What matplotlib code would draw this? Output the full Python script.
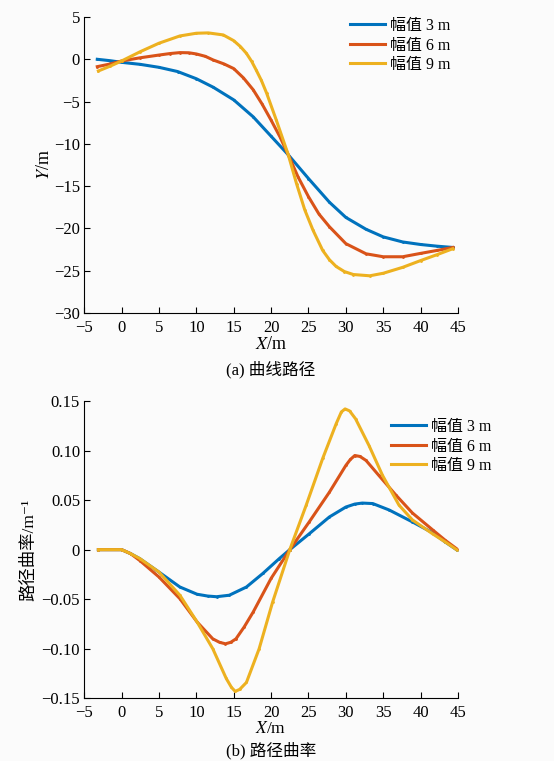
import matplotlib
matplotlib.use("Agg")
import matplotlib.pyplot as plt

serif_cjk = ["Liberation Serif", "Noto Sans CJK SC", "DejaVu Sans"]
plt.rcParams['font.family'] = serif_cjk
plt.rcParams['mathtext.fontset'] = 'stix'
plt.rcParams['axes.unicode_minus'] = True

bg = "#fbfbfb"
c3 = "#0072BD"  # matlab default colors
c6 = "#D95319"
c9 = "#EDB120"
labels = ["幅值 3 m", "幅值 6 m", "幅值 9 m"]

# ---- (a) path: X, Y in m
path_x3 = [-3.25, -1.5, 0, 2.5, 5, 7.5, 10, 12.25, 15, 17.6, 20, 22.3, 25, 27.8, 30, 32.7, 35, 37.6, 40, 42.2, 44.3]
path_y3 = [0.0, -0.17, -0.36, -0.6, -0.95, -1.45, -2.3, -3.3, -4.8, -6.8, -9.1, -11.3, -14.1, -16.9, -18.7, -20.1, -21.0, -21.6, -21.9, -22.1, -22.25]
path_x6 = [-3.25, -1.5, 0, 2.5, 5, 6.5, 7.8, 9, 10, 11.2, 12.25, 13.7, 15, 16.3, 17.6, 18.8, 20, 21.2, 22.3, 23.6, 25, 26.4, 27.8, 30, 32.7, 35, 37.6, 40, 42.2, 44.3]
path_y6 = [-0.87, -0.55, -0.2, 0.18, 0.5, 0.68, 0.79, 0.77, 0.63, 0.35, -0.08, -0.55, -1.1, -2.2, -3.6, -5.3, -7.2, -9.2, -11.3, -13.9, -16.25, -18.3, -19.8, -21.8, -23.0, -23.35, -23.35, -22.95, -22.6, -22.25]
path_x9 = [-3.1, -1.5, 0, 2.5, 5, 7.8, 10, 11.6, 13.6, 15, 15.9, 16.7, 17.4, 18, 18.7, 19.4, 20.7, 22.3, 23.4, 24.5, 25.6, 26.9, 27.8, 28.7, 29.8, 31, 33.2, 35, 37.6, 40, 42.2, 44.3]
path_y9 = [-1.38, -0.8, -0.2, 0.9, 1.9, 2.76, 3.08, 3.12, 2.88, 2.2, 1.5, 0.7, -0.25, -1.26, -2.5, -4.0, -7.2, -11.3, -14.7, -17.8, -20.2, -22.6, -23.7, -24.5, -25.1, -25.45, -25.6, -25.3, -24.6, -23.8, -23.1, -22.4]

# ---- (b) curvature, 1/m
curv_x3 = [-3.1, 0, 1.2, 2.44, 5, 7.8, 10.1, 11.5, 12.7, 14.4, 16.7, 18.9, 21.1, 22.5, 25.1, 27.8, 30, 31.2, 32.2, 33.6, 35.8, 38.9, 41.6, 43.3, 44.8]
curv_k3 = [0, 0, -0.004, -0.0091, -0.0226, -0.0377, -0.045, -0.0468, -0.0475, -0.046, -0.0377, -0.024, -0.009, 0.0, 0.016, 0.033, 0.043, 0.046, 0.047, 0.0465, 0.040, 0.028, 0.017, 0.0077, 0.0]
curv_x6 = [-3.1, 0, 1.2, 2.44, 5, 7.8, 10.1, 12.2, 13.1, 13.9, 14.6, 15.3, 16.4, 17.6, 20, 22.5, 25.1, 27.8, 30, 30.6, 31.2, 31.9, 32.7, 34.4, 36.7, 38.9, 41.6, 43.3, 44.8]
curv_k6 = [0, 0, -0.004, -0.011, -0.0276, -0.0495, -0.073, -0.09, -0.0935, -0.095, -0.0935, -0.09, -0.078, -0.063, -0.029, 0.0, 0.028, 0.058, 0.085, 0.091, 0.095, 0.094, 0.090, 0.075, 0.055, 0.037, 0.020, 0.0094, 0.001]
curv_x9 = [-3.1, 0, 1.2, 2.44, 5, 7.8, 10.1, 12.2, 14, 14.7, 15.2, 15.8, 16.7, 18.4, 20.2, 22.5, 24.7, 26.9, 28.7, 29.4, 29.9, 30.5, 31.3, 33.1, 34.9, 37.1, 38.9, 41.6, 43.3, 44.8]
curv_k9 = [0, 0, -0.004, -0.009, -0.0226, -0.046, -0.073, -0.1, -0.13, -0.139, -0.143, -0.141, -0.134, -0.1, -0.053, 0.0, 0.045, 0.092, 0.127, 0.139, 0.142, 0.140, 0.132, 0.105, 0.075, 0.045, 0.030, 0.016, 0.0077, 0.0]

xticks = [-5, 0, 5, 10, 15, 20, 25, 30, 35, 40, 45]
yticks_a = [5, 0, -5, -10, -15, -20, -25, -30]
yticks_b = [0.15, 0.10, 0.05, 0, -0.05, -0.10, -0.15]
yticklabels_b = ["0.15", "0.10", "0.05", "0", "\u22120.05", "\u22120.10", "\u22120.15"]


def style_axis(ax):
	ax.set_facecolor(bg)
	ax.spines['top'].set_visible(False)
	ax.spines['right'].set_visible(False)
	ax.tick_params(direction='in', length=4, width=0.8, labelsize=12, top=False, right=False)
	ax.tick_params(axis='x', pad=5)
	ax.tick_params(axis='y', pad=3)
	ax.set_xlim(-5, 45)
	ax.set_xticks(xticks)
	ax.set_xticklabels([str(v).replace("-", "\u2212") for v in xticks])


def add_legend(ax, anchor):
	ax.legend(loc='upper left', bbox_to_anchor=anchor, bbox_transform=fig.transFigure,
			frameon=False, fontsize=11.5, handlelength=2.2, handletextpad=0.3,
			labelspacing=0.22, borderpad=0, borderaxespad=0, numpoints=1)


fig = plt.figure(figsize=(5.54, 7.61), dpi=100, facecolor=bg)

ax1 = fig.add_axes([84.2 / 554, 1 - 313 / 761, 373.8 / 554, 296 / 761])
ax1.plot(path_x3, path_y3, color=c3, lw=2.2, marker='.', ms=2, label=labels[0])
ax1.plot(path_x6, path_y6, color=c6, lw=2.2, marker='.', ms=2, label=labels[1])
ax1.plot(path_x9, path_y9, color=c9, lw=2.2, marker='.', ms=2, label=labels[2])
style_axis(ax1)
ax1.set_ylim(-30, 5)
ax1.set_yticks(yticks_a)
ax1.set_yticklabels([str(v).replace("-", "\u2212") for v in yticks_a])
ax1.set_xlabel("$X$/m", fontsize=13, labelpad=0)
ax1.set_ylabel("$Y$/m", fontsize=13, labelpad=1)
add_legend(ax1, (350 / 554, 1 - 18 / 761))
fig.text(271 / 554, 1 - 370 / 761, "(a) 曲线路径", ha='center', va='center', fontsize=12, family=serif_cjk)

ax2 = fig.add_axes([84.2 / 554, 1 - 698.3 / 761, 373.8 / 554, 297.3 / 761])
ax2.plot(curv_x3, curv_k3, color=c3, lw=2.2, marker='.', ms=2, label=labels[0])
ax2.plot(curv_x6, curv_k6, color=c6, lw=2.2, marker='.', ms=2, label=labels[1])
ax2.plot(curv_x9, curv_k9, color=c9, lw=2.2, marker='.', ms=2, label=labels[2])
style_axis(ax2)
ax2.set_ylim(-0.15, 0.15)
ax2.set_yticks(yticks_b)
ax2.set_yticklabels(yticklabels_b)
ax2.set_xlabel("$X$/m", fontsize=12.5, labelpad=0)
ax2.set_ylabel("路径曲率/m⁻¹", fontsize=12.5, labelpad=3, family=serif_cjk)
add_legend(ax2, (391 / 554, 1 - 419 / 761))
fig.text(271 / 554, 1 - 751 / 761, "(b) 路径曲率", ha='center', va='center', fontsize=12, family=serif_cjk)

fig.savefig("out.png", dpi=100, facecolor=fig.get_facecolor())
